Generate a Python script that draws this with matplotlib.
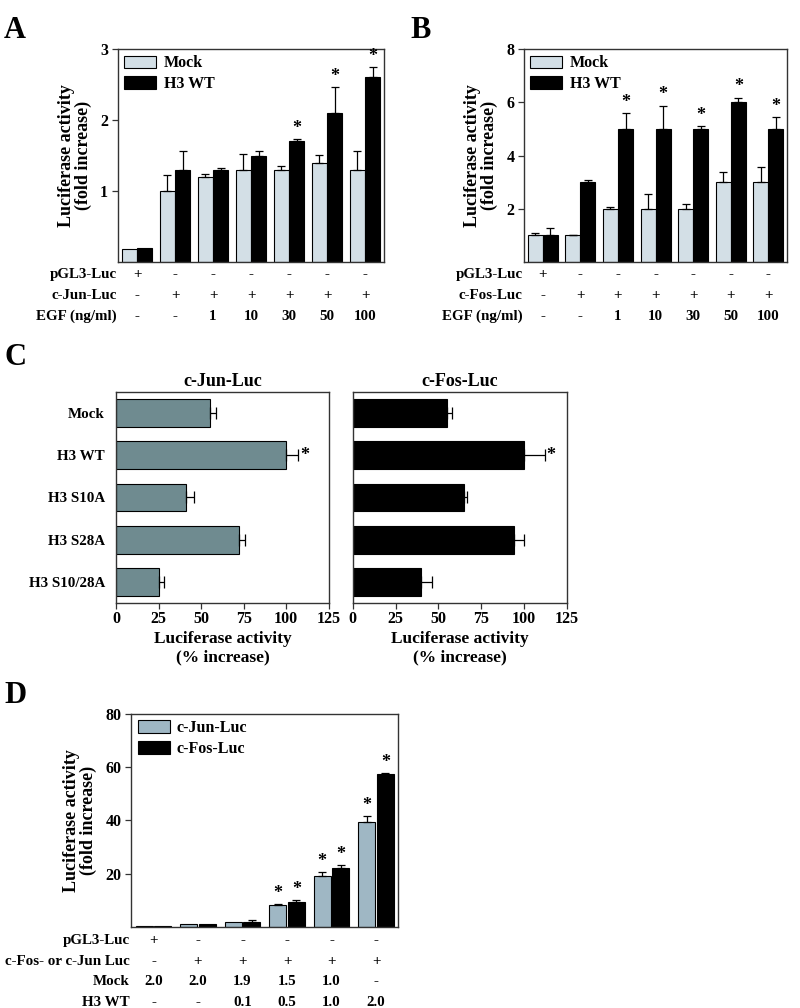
import numpy as np
import matplotlib
matplotlib.use("Agg")
import matplotlib.pyplot as plt
from matplotlib.transforms import blended_transform_factory
from matplotlib.patches import Patch

plt.rcParams['font.family'] = ['Liberation Serif', 'DejaVu Serif']
plt.rcParams['font.weight'] = 'bold'
plt.rcParams['axes.labelweight'] = 'bold'
plt.rcParams['axes.titleweight'] = 'bold'

# ---------------- data ----------------
# Panel A (c-Jun-Luc)
a_mock = [0.19, 1.0, 1.2, 1.3, 1.3, 1.4, 1.3]
a_mock_err = [0.0, 0.23, 0.04, 0.22, 0.05, 0.11, 0.27]
a_h3 = [0.2, 1.3, 1.3, 1.5, 1.7, 2.1, 2.6]
a_h3_err = [0.0, 0.27, 0.02, 0.06, 0.03, 0.36, 0.15]
a_star = [False, False, False, False, True, True, True]
a_rows = ["pGL3-Luc", "c-Jun-Luc", "EGF (ng/ml)"]
a_row_vals = [["+", "-", "-", "-", "-", "-", "-"],
              ["-", "+", "+", "+", "+", "+", "+"],
              ["-", "-", "1", "10", "30", "50", "100"]]

# Panel B (c-Fos-Luc)
b_mock = [1.0, 1.0, 2.0, 2.0, 2.0, 3.0, 3.0]
b_mock_err = [0.08, 0.03, 0.08, 0.55, 0.2, 0.4, 0.58]
b_h3 = [1.0, 3.0, 5.0, 5.0, 5.0, 6.0, 5.0]
b_h3_err = [0.28, 0.1, 0.6, 0.88, 0.1, 0.18, 0.45]
b_star = [False, False, True, True, True, True, True]
b_rows = ["pGL3-Luc", "c-Fos-Luc", "EGF (ng/ml)"]
b_row_vals = [["+", "-", "-", "-", "-", "-", "-"],
              ["-", "+", "+", "+", "+", "+", "+"],
              ["-", "-", "1", "10", "30", "50", "100"]]

# Panel C
c_cats = ["Mock", "H3 WT", "H3 S10A", "H3 S28A", "H3 S10/28A"]
c_jun = [55, 100, 41, 72, 25]
c_jun_err = [4, 7, 5, 4, 3]
c_fos = [55, 100, 65, 94, 40]
c_fos_err = [3, 12, 1.5, 6, 6]
c_star = [False, True, False, False, False]
c_ticks = [0, 25, 50, 75, 100, 125]

# Panel D
d_jun = [0.3, 1.2, 2.0, 8.3, 19.0, 39.5]
d_jun_err = [0.0, 0.0, 0.0, 0.3, 1.6, 2.0]
d_fos = [0.5, 1.0, 2.0, 9.2, 22.0, 57.5]
d_fos_err = [0.0, 0.0, 0.5, 0.9, 1.2, 0.4]
d_star = [False, False, False, True, True, True]
d_rows = ["pGL3-Luc", "c-Fos- or c-Jun Luc", "Mock", "H3 WT"]
d_row_vals = [["+", "-", "-", "-", "-", "-"],
              ["-", "+", "+", "+", "+", "+"],
              ["2.0", "2.0", "1.9", "1.5", "1.0", "-"],
              ["-", "-", "0.1", "0.5", "1.0", "2.0"]]

# ---------------- styles ----------------
MOCK_C = "#d3dfe6"
H3_C = "#000000"
C_JUN_C = "#6f8b90"
D_JUN_C = "#9fb7c4"
SPINE_C = "#333333"
FS = 10.8

fig = plt.figure(figsize=(8, 10.08), dpi=100)


def style_box(ax):
    for s in ax.spines.values():
        s.set_color(SPINE_C)
        s.set_linewidth(1.0)


def grouped(ax, v1, e1, v2, e2, stars, c1, c2, width, off, ymax, yticks, labels):
    n = len(v1)
    x = np.arange(n)
    ax.bar(x - off, v1, width, color=c1, edgecolor='black', linewidth=0.8, zorder=2)
    ax.bar(x + off, v2, width, color=c2, edgecolor='black', linewidth=0.8, zorder=2)
    for xs, v, e in ((x - off, v1, e1), (x + off, v2, e2)):
        ee = np.array(e)
        m = ee > 0
        ax.errorbar(xs[m], np.array(v)[m], yerr=[np.zeros(m.sum()), ee[m]], fmt='none',
                    ecolor='black', elinewidth=0.9, capsize=3, capthick=0.9, zorder=3)
    for i in range(n):
        if stars[i]:
            ax.text(x[i] + off, v2[i] + e2[i] + ymax * 0.01, "*", ha='center', va='bottom',
                    fontsize=13)
    ax.set_xlim(-0.5, n - 0.5)
    ax.set_ylim(0, ymax)
    ax.set_xticks([])
    ax.set_yticks(yticks)
    ax.set_yticklabels([str(t) for t in yticks], fontsize=11.5)
    ax.tick_params(axis='y', direction='out', length=4, width=0.9, color=SPINE_C, pad=3)
    style_box(ax)
    ax.set_ylabel("Luciferase activity\n(fold increase)", fontsize=13, labelpad=6,
                  linespacing=1.0)
    ax.legend(handles=[Patch(facecolor=c1, edgecolor='black', linewidth=0.8),
                       Patch(facecolor=c2, edgecolor='black', linewidth=0.8)],
              labels=labels, loc='upper left', frameon=False, fontsize=11.5,
              handlelength=2.0, handleheight=0.85, handletextpad=0.45,
              borderaxespad=0.2, labelspacing=0.3, borderpad=0.2)
    return x


def rows(ax, names, vals, y0, dy):
    tr = blended_transform_factory(ax.transData, ax.transAxes)
    trl = ax.transAxes
    for r, (name, rv) in enumerate(zip(names, vals)):
        y = y0 - r * dy
        ax.text(-0.005, y, name, transform=trl, ha='right', va='center', fontsize=FS)
        for i, v in enumerate(rv):
            ax.text(i, y, v, transform=tr, ha='center', va='center', fontsize=FS)


# Panel A
axA = fig.add_axes([0.1475, 0.740, 0.3325, 0.2113])
grouped(axA, a_mock, a_mock_err, a_h3, a_h3_err, a_star, MOCK_C, H3_C, 0.40, 0.20, 3,
        [1, 2, 3], ["Mock", "H3 WT"])
rows(axA, a_rows, a_row_vals, -0.06, 0.097)
fig.text(0.005, 0.970, "A", fontsize=22, ha='left', va='center')

# Panel B
axB = fig.add_axes([0.655, 0.740, 0.329, 0.2113])
grouped(axB, b_mock, b_mock_err, b_h3, b_h3_err, b_star, MOCK_C, H3_C, 0.40, 0.20, 8,
        [2, 4, 6, 8], ["Mock", "H3 WT"])
rows(axB, b_rows, b_row_vals, -0.06, 0.097)
fig.text(0.513, 0.970, "B", fontsize=22, ha='left', va='center')

# Panel C
fig.text(0.005, 0.645, "C", fontsize=22, ha='left', va='center')
for k, (vals, errs, col, title, left, width) in enumerate([
        (c_jun, c_jun_err, C_JUN_C, "c-Jun-Luc", 0.145, 0.266),
        (c_fos, c_fos_err, H3_C, "c-Fos-Luc", 0.441, 0.2675)]):
    ax = fig.add_axes([left, 0.4018, width, 0.2093])
    y = np.arange(len(c_cats))
    ax.barh(y, vals, height=0.66, color=col, edgecolor='black', linewidth=0.8, zorder=2)
    ax.errorbar(vals, y, xerr=[np.zeros(len(vals)), errs], fmt='none', ecolor='black',
                elinewidth=0.9, capsize=4.5, capthick=0.9, zorder=3)
    for i in range(len(c_cats)):
        if c_star[i]:
            ax.text(vals[i] + errs[i] + 1.0, y[i], "*", ha='left', va='center', fontsize=13)
    ax.set_ylim(len(c_cats) - 0.5, -0.5)
    ax.set_xlim(0, 125)
    ax.set_xticks(c_ticks)
    ax.set_xticklabels([str(t) for t in c_ticks], fontsize=11.5)
    ax.tick_params(axis='x', direction='out', length=4, width=0.9, color=SPINE_C, pad=2)
    if k == 0:
        ax.set_yticks(y)
        ax.set_yticklabels(c_cats, fontsize=FS)
        ax.tick_params(axis='y', length=0, pad=8)
    else:
        ax.set_yticks([])
    style_box(ax)
    ax.set_title(title, fontsize=13, pad=4, fontweight='bold')
    ax.set_xlabel("Luciferase activity\n(% increase)", fontsize=12.5, labelpad=3,
                  linespacing=1.15)

# Panel D
axD = fig.add_axes([0.164, 0.0804, 0.334, 0.2113])
grouped(axD, d_jun, d_jun_err, d_fos, d_fos_err, [False] * 6, D_JUN_C, H3_C, 0.38, 0.21, 80,
        [20, 40, 60, 80], ["c-Jun-Luc", "c-Fos-Luc"])
xd = np.arange(len(d_jun))
for i in range(len(d_jun)):
    if d_star[i]:
        axD.text(xd[i] - 0.21, d_jun[i] + d_jun_err[i] + 0.8, "*", ha='center', va='bottom', fontsize=13)
        axD.text(xd[i] + 0.21, d_fos[i] + d_fos_err[i] + 0.8, "*", ha='center', va='bottom', fontsize=13)
rows(axD, d_rows, d_row_vals, -0.065, 0.096)
fig.text(0.005, 0.310, "D", fontsize=22, ha='left', va='center')

fig.savefig("out.png", dpi=100)
